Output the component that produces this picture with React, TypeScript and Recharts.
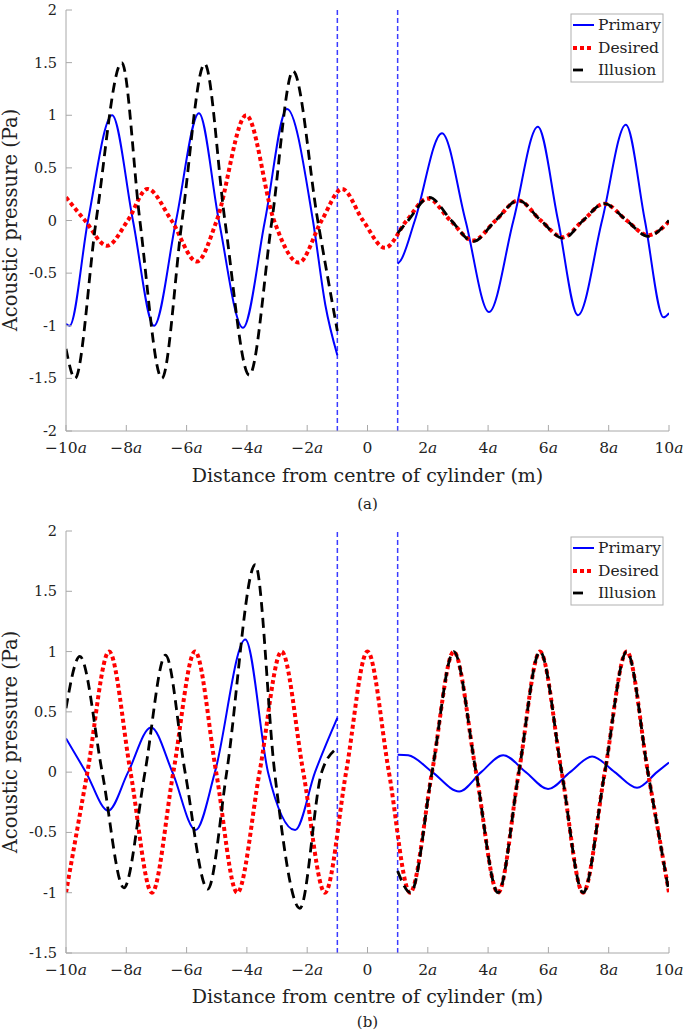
import React from 'react';
import { LineChart, Line, XAxis, YAxis, ReferenceLine } from 'recharts';

type Pt = [number, number];

// ---------- shared axis data ----------
const xTicks = [-10, -8, -6, -4, -2, 0, 2, 4, 6, 8, 10];
const yTicksA = [-2, -1.5, -1, -0.5, 0, 0.5, 1, 1.5, 2];
const yTicksB = [-1.5, -1, -0.5, 0, 0.5, 1, 1.5, 2];
const cylinderEdges = [-1, 1];
const seriesNames = ['Primary', 'Desired', 'Illusion'];
const xLabel = 'Distance from centre of cylinder (m)';
const yLabel = 'Acoustic pressure (Pa)';
const captions = ['(a)', '(b)'];

// ---------- panel (a) ----------
const aPrimaryLeft: Pt[] = [
  [-10, -0.98], [-9.88, -1.0], [-9.27, 0], [-8.47, 1.0], [-7.78, 0], [-7.08, -1.0],
  [-6.35, 0], [-5.59, 1.02], [-4.93, 0], [-4.13, -1.02], [-3.4, 0], [-2.67, 1.06],
  [-1.81, 0], [-1.4, -0.8], [-1, -1.28],
];
const aPrimaryRight: Pt[] = [
  [1, -0.41], [1.1, -0.38], [1.57, 0], [2.47, 0.83], [3.25, 0], [4.03, -0.87],
  [4.84, 0], [5.65, 0.89], [6.32, 0], [6.98, -0.9], [7.78, 0], [8.57, 0.91],
  [9.2, 0], [9.82, -0.92], [10, -0.88],
];
const aDesired: Pt[] = [
  [-10, 0.22], [-9.37, 0], [-8.64, -0.24], [-7.95, 0], [-7.3, 0.3], [-6.5, 0],
  [-5.66, -0.39], [-5.0, 0], [-4.02, 1.0], [-3.1, 0], [-2.28, -0.4], [-1.52, 0],
  [-0.84, 0.3], [-0.15, 0], [0.58, -0.26], [1.3, 0], [2.0, 0.21], [2.75, 0],
  [3.5, -0.19], [4.25, 0], [5.0, 0.19], [5.75, 0], [6.48, -0.16], [7.15, 0],
  [7.85, 0.16], [8.6, 0], [9.3, -0.14], [10, -0.01],
];
const aIllusionLeft: Pt[] = [
  [-10, -1.22], [-9.7, -1.5], [-9.0, 0], [-8.15, 1.5], [-7.55, 0], [-6.82, -1.5],
  [-6.15, 0], [-5.4, 1.49], [-4.73, 0], [-3.92, -1.47], [-3.17, 0], [-2.47, 1.42],
  [-1.65, 0], [-1, -1.05],
];
const aIllusionRight: Pt[] = [
  [1, -0.12], [1.35, 0], [2.05, 0.22], [2.78, 0], [3.5, -0.2], [4.25, 0],
  [5.0, 0.19], [5.75, 0], [6.5, -0.17], [7.15, 0], [7.85, 0.16], [8.6, 0],
  [9.3, -0.15], [10, 0.0],
];

// ---------- panel (b) ----------
const bPrimaryLeft: Pt[] = [
  [-10, 0.28], [-9.34, 0], [-8.6, -0.32], [-7.94, 0], [-7.18, 0.37], [-6.47, 0],
  [-5.7, -0.48], [-5.06, 0], [-4.05, 1.1], [-3.3, 0], [-2.4, -0.48], [-1.74, 0],
  [-1, 0.45],
];
const bPrimaryRight: Pt[] = [
  [1, 0.145], [1.35, 0.14], [2.15, 0], [3.04, -0.16], [3.77, 0], [4.5, 0.14],
  [5.25, 0], [5.99, -0.14], [6.72, 0], [7.45, 0.13], [8.2, 0], [8.94, -0.13],
  [9.6, 0], [10, 0.08],
];
const bDesired: Pt[] = [
  [-10, -1.0], [-9.29, 0], [-8.57, 1.0], [-7.86, 0], [-7.15, -1.0], [-6.44, 0],
  [-5.72, 1.0], [-5.02, 0], [-4.32, -1.0], [-3.58, 0], [-2.85, 1.0], [-2.13, 0],
  [-1.41, -1.0], [-0.71, 0], [0, 1.0], [0.71, 0], [1.41, -1.0], [2.14, 0],
  [2.86, 1.0], [3.6, 0], [4.33, -1.0], [5.02, 0], [5.72, 1.0], [6.44, 0],
  [7.15, -1.0], [7.87, 0], [8.6, 1.0], [9.3, 0], [10, -1.0],
];
const bIllusionLeft: Pt[] = [
  [-10, 0.53], [-9.54, 0.96], [-8.8, 0], [-8.08, -0.96], [-7.38, 0], [-6.7, 0.97],
  [-6.05, 0], [-5.3, -0.97], [-4.67, 0], [-3.72, 1.72], [-3.08, 0], [-2.24, -1.13],
  [-1.52, 0], [-1, 0.2],
];
const bIllusionRight: Pt[] = [
  [1, -0.82], [1.43, -1.0], [2.14, 0], [2.86, 1.0], [3.6, 0], [4.33, -1.0],
  [5.02, 0], [5.72, 1.0], [6.44, 0], [7.15, -1.0], [7.87, 0], [8.6, 1.0],
  [9.3, 0], [10, -1.0],
];

// ---------- styles ----------
const FONT = '"DejaVu Serif", serif';
const AXIS_GRAY = '#a8a8a8';
const TEXT = '#222222';
const TICK_LEN = 6;
const BLUE = '#0000ff';
const RED = '#ff0000';
const BLACK = '#000000';

const textStyle = (size: number): React.CSSProperties => ({ fontFamily: FONT, fontSize: size });

const toData = (pts: Pt[]) => pts.map(([x, y]) => ({ x, y }));

const fmtX = (v: number) => (v < 0 ? '\u2212' + Math.abs(v) : String(v));

const BottomTick = (p: any) => {
  const { x, y, payload } = p;
  const v = payload.value as number;
  return (
    <g>
      <line x1={x} x2={x} y1={y} y2={y - TICK_LEN} stroke={AXIS_GRAY} strokeWidth={1} />
      <text x={x} y={y + 22} textAnchor="middle" style={textStyle(15.5)} fill={TEXT}>
        {v === 0 ? '0' : (
          <>
            {fmtX(v)}
            <tspan fontStyle="italic">a</tspan>
          </>
        )}
      </text>
    </g>
  );
};

const LeftTick = (p: any) => {
  const { x, y, payload } = p;
  return (
    <g>
      <line x1={x} x2={x + TICK_LEN} y1={y} y2={y} stroke={AXIS_GRAY} strokeWidth={1} />
      <text x={x - 9} y={y + 5} textAnchor="end" style={textStyle(14.5)} fill={TEXT}>
        {String(payload.value)}
      </text>
    </g>
  );
};

const TopTick = (p: any) => {
  const { x, y } = p;
  return <line x1={x} x2={x} y1={y} y2={y + TICK_LEN} stroke={AXIS_GRAY} strokeWidth={1} />;
};

const RightTick = (p: any) => {
  const { x, y } = p;
  return <line x1={x} x2={x - TICK_LEN} y1={y} y2={y} stroke={AXIS_GRAY} strokeWidth={1} />;
};

type PanelProps = {
  top: number;
  height: number;
  yDomain: [number, number];
  yTicks: number[];
  primary: Pt[][];
  desired: Pt[][];
  illusion: Pt[][];
};

const Panel = ({ top, height, yDomain, yTicks, primary, desired, illusion }: PanelProps) => (
  <div style={{ position: 'absolute', left: 0, top, width: 685, height }}>
    <LineChart width={685} height={height} margin={{ top: 10, right: 16, bottom: 0, left: 0 }}>
      <XAxis xAxisId={0} dataKey="x" type="number" domain={[-10, 10]} ticks={xTicks} interval={0}
        height={30} tickSize={0} tickMargin={0} tickLine={false} axisLine={{ stroke: AXIS_GRAY }}
        tick={BottomTick} allowDataOverflow />
      <XAxis xAxisId="t" orientation="top" dataKey="x" type="number" domain={[-10, 10]} ticks={xTicks}
        interval={0} height={0} tickSize={0} tickMargin={0} tickLine={false}
        axisLine={{ stroke: AXIS_GRAY }} tick={TopTick} allowDataOverflow />
      <YAxis yAxisId={0} type="number" domain={yDomain} ticks={yTicks} interval={0} width={66}
        tickSize={0} tickMargin={0} tickLine={false} axisLine={{ stroke: AXIS_GRAY }}
        tick={LeftTick} allowDataOverflow />
      <YAxis yAxisId="r" orientation="right" type="number" domain={yDomain} ticks={yTicks} interval={0}
        width={0} tickSize={0} tickMargin={0} tickLine={false} axisLine={{ stroke: AXIS_GRAY }}
        tick={RightTick} allowDataOverflow />
      {cylinderEdges.map((e) => (
        <ReferenceLine key={'edge' + e} x={e} xAxisId={0} yAxisId={0} stroke="#3b3bff"
          strokeWidth={1.5} strokeDasharray="5 3" />
      ))}
      {primary.map((seg, i) => (
        <Line key={'p' + i} xAxisId={0} yAxisId={0} data={toData(seg)} dataKey="y" type="monotone"
          stroke={BLUE} strokeWidth={2} dot={false} activeDot={false} isAnimationActive={false} />
      ))}
      {desired.map((seg, i) => (
        <Line key={'d' + i} xAxisId={0} yAxisId={0} data={toData(seg)} dataKey="y" type="monotone"
          stroke={RED} strokeWidth={4} strokeDasharray="4 3" dot={false} activeDot={false}
          isAnimationActive={false} />
      ))}
      {illusion.map((seg, i) => (
        <Line key={'i' + i} xAxisId={0} yAxisId={0} data={toData(seg)} dataKey="y" type="monotone"
          stroke={BLACK} strokeWidth={2.8} strokeDasharray="10 6" dot={false} activeDot={false}
          isAnimationActive={false} />
      ))}
    </LineChart>
  </div>
);

const LegendBox = ({ top }: { top: number }) => (
  <g transform={`translate(571,${top})`}>
    <rect x={0} y={0} width={92} height={68} fill="#ffffff" stroke="#b0b0b0" strokeWidth={1} />
    <line x1={2} x2={23} y1={11} y2={11} stroke={BLUE} strokeWidth={2} />
    <text x={27} y={16} style={textStyle(15.5)} fill={TEXT}>{seriesNames[0]}</text>
    <line x1={2} x2={23} y1={34} y2={34} stroke={RED} strokeWidth={4} strokeDasharray="4 3" />
    <text x={27} y={39} style={textStyle(15.5)} fill={TEXT}>{seriesNames[1]}</text>
    <line x1={2} x2={12} y1={56} y2={56} stroke={BLACK} strokeWidth={2.8} />
    <text x={27} y={61} style={textStyle(15.5)} fill={TEXT}>{seriesNames[2]}</text>
  </g>
);

export default function App() {
  return (
    <div style={{ position: 'absolute', left: 0, top: 0, width: 685, height: 1036, background: '#fff' }}>
      <Panel top={0} height={461} yDomain={[-2, 2]} yTicks={yTicksA}
        primary={[aPrimaryLeft, aPrimaryRight]} desired={[aDesired]} illusion={[aIllusionLeft, aIllusionRight]} />
      <Panel top={521} height={462} yDomain={[-1.5, 2]} yTicks={yTicksB}
        primary={[bPrimaryLeft, bPrimaryRight]} desired={[bDesired]} illusion={[bIllusionLeft, bIllusionRight]} />
      <svg width={685} height={1036} style={{ position: 'absolute', left: 0, top: 0, pointerEvents: 'none' }}>
        <LegendBox top={14} />
        <LegendBox top={537} />
        <text x={367.5} y={482} textAnchor="middle" style={textStyle(19)} fill={TEXT}>{xLabel}</text>
        <text x={367.5} y={1003} textAnchor="middle" style={textStyle(19)} fill={TEXT}>{xLabel}</text>
        <text x={367.5} y={509} textAnchor="middle" style={textStyle(15)} fill={TEXT}>{captions[0]}</text>
        <text x={367.5} y={1027} textAnchor="middle" style={textStyle(15)} fill={TEXT}>{captions[1]}</text>
        <text transform="translate(17,220) rotate(-90)" textAnchor="middle" style={textStyle(19.5)} fill={TEXT}>{yLabel}</text>
        <text transform="translate(17,742) rotate(-90)" textAnchor="middle" style={textStyle(19.5)} fill={TEXT}>{yLabel}</text>
      </svg>
    </div>
  );
}
